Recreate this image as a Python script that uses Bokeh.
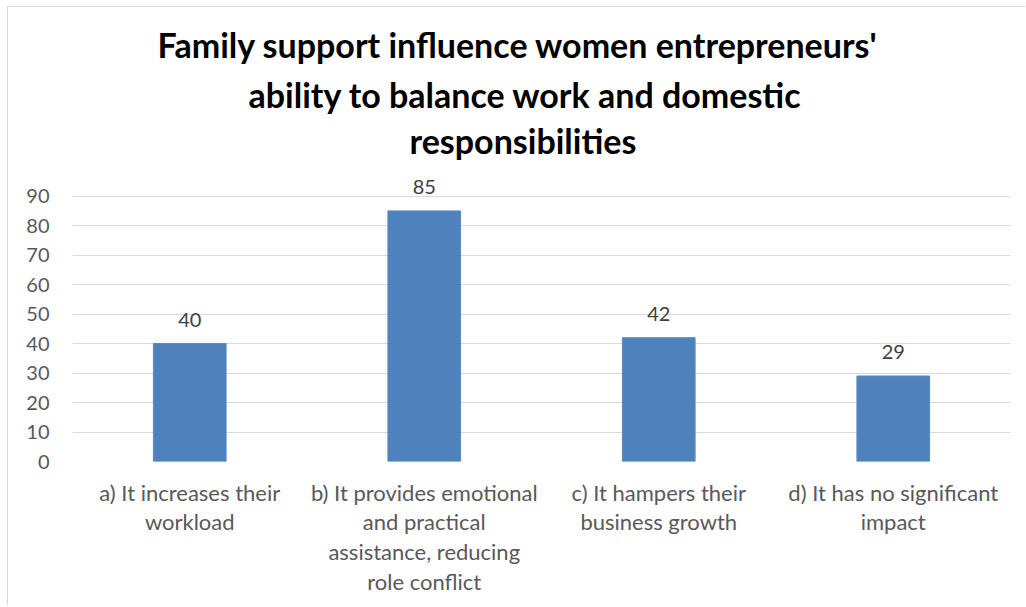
from bokeh.plotting import figure
from bokeh.models import FactorRange, Range1d, FixedTicker, Title, ColumnDataSource
from bokeh.core.properties import value
from bokeh.embed import file_html
from bokeh.resources import INLINE

categories = [
    "a) It increases their\nworkload",
    "b) It provides emotional\nand practical\nassistance, reducing\nrole conflict",
    "c) It hampers their\nbusiness growth",
    "d) It has no significant\nimpact",
]
values = [40, 85, 42, 29]
y_ticks = [0, 10, 20, 30, 40, 50, 60, 70, 80, 90]
title_lines = [
    "Family support influence women entrepreneurs'",
    "ability to balance work and domestic",
    "responsibilities",
]

FONT = "Lato"

p = figure(
    width=1018, height=599,
    x_range=FactorRange(factors=categories, range_padding=0),
    y_range=Range1d(0, 97),
    output_backend="svg", toolbar_location=None,
    min_border_left=64, min_border_right=16, min_border_bottom=145, min_border_top=168,
)
p.styles = {
    "margin-left": "7px", "margin-top": "6px",
    "border-top": "1px solid #d9d9d9", "border-left": "1px solid #d9d9d9",
}

# small spacer between the title block and the plot frame
p.add_layout(Title(text=" ", text_font_size="1px", standoff=12), "above")

# layout of the three title lines: (standoff, left offset in px)
title_layout = [(8, 85), (6, 176), (0, 337)]
for line, (so, off) in reversed(list(zip(title_lines, title_layout))):
    p.add_layout(Title(text=line, align="left", offset=off, standoff=so,
                       text_font=FONT, text_font_size="34px", text_font_style="bold",
                       text_color="#000000"), "above")

src = ColumnDataSource(dict(x=categories, top=values, label=[str(v) for v in values]))
p.vbar(x="x", top="top", width=0.31, source=src, fill_color="#4F81BD", line_color="#5B8CC6", line_width=1)
p.text(x="x", y="top", text="label", source=src, text_align="center", text_baseline="bottom",
       y_offset=-17, text_font=value(FONT), text_font_size="20px", text_color="#404040")

p.outline_line_color = None
p.background_fill_color = "white"
p.border_fill_color = "white"
p.xgrid.grid_line_color = None
p.ygrid.grid_line_color = "#D9D9D9"
p.ygrid.grid_line_width = 1
p.yaxis.ticker = FixedTicker(ticks=y_ticks)
p.ygrid.ticker = FixedTicker(ticks=y_ticks)

p.yaxis.axis_line_color = None
p.yaxis.major_tick_line_color = None
p.yaxis.minor_tick_line_color = None
p.yaxis.major_tick_out = 0
p.yaxis.major_label_standoff = 23
p.yaxis.major_label_text_font = FONT
p.yaxis.major_label_text_font_size = "20px"
p.yaxis.major_label_text_color = "#595959"

p.xaxis.axis_line_color = None
p.xaxis.major_tick_line_color = None
p.xaxis.minor_tick_line_color = None
p.xaxis.major_tick_out = 0
p.xaxis.major_label_standoff = 17
p.xaxis.major_label_text_font = FONT
p.xaxis.major_label_text_font_size = "22px"
p.xaxis.major_label_text_color = "#595959"
p.xaxis.major_label_text_line_height = 1.1

open("out.html", "w").write(file_html(p, INLINE))
